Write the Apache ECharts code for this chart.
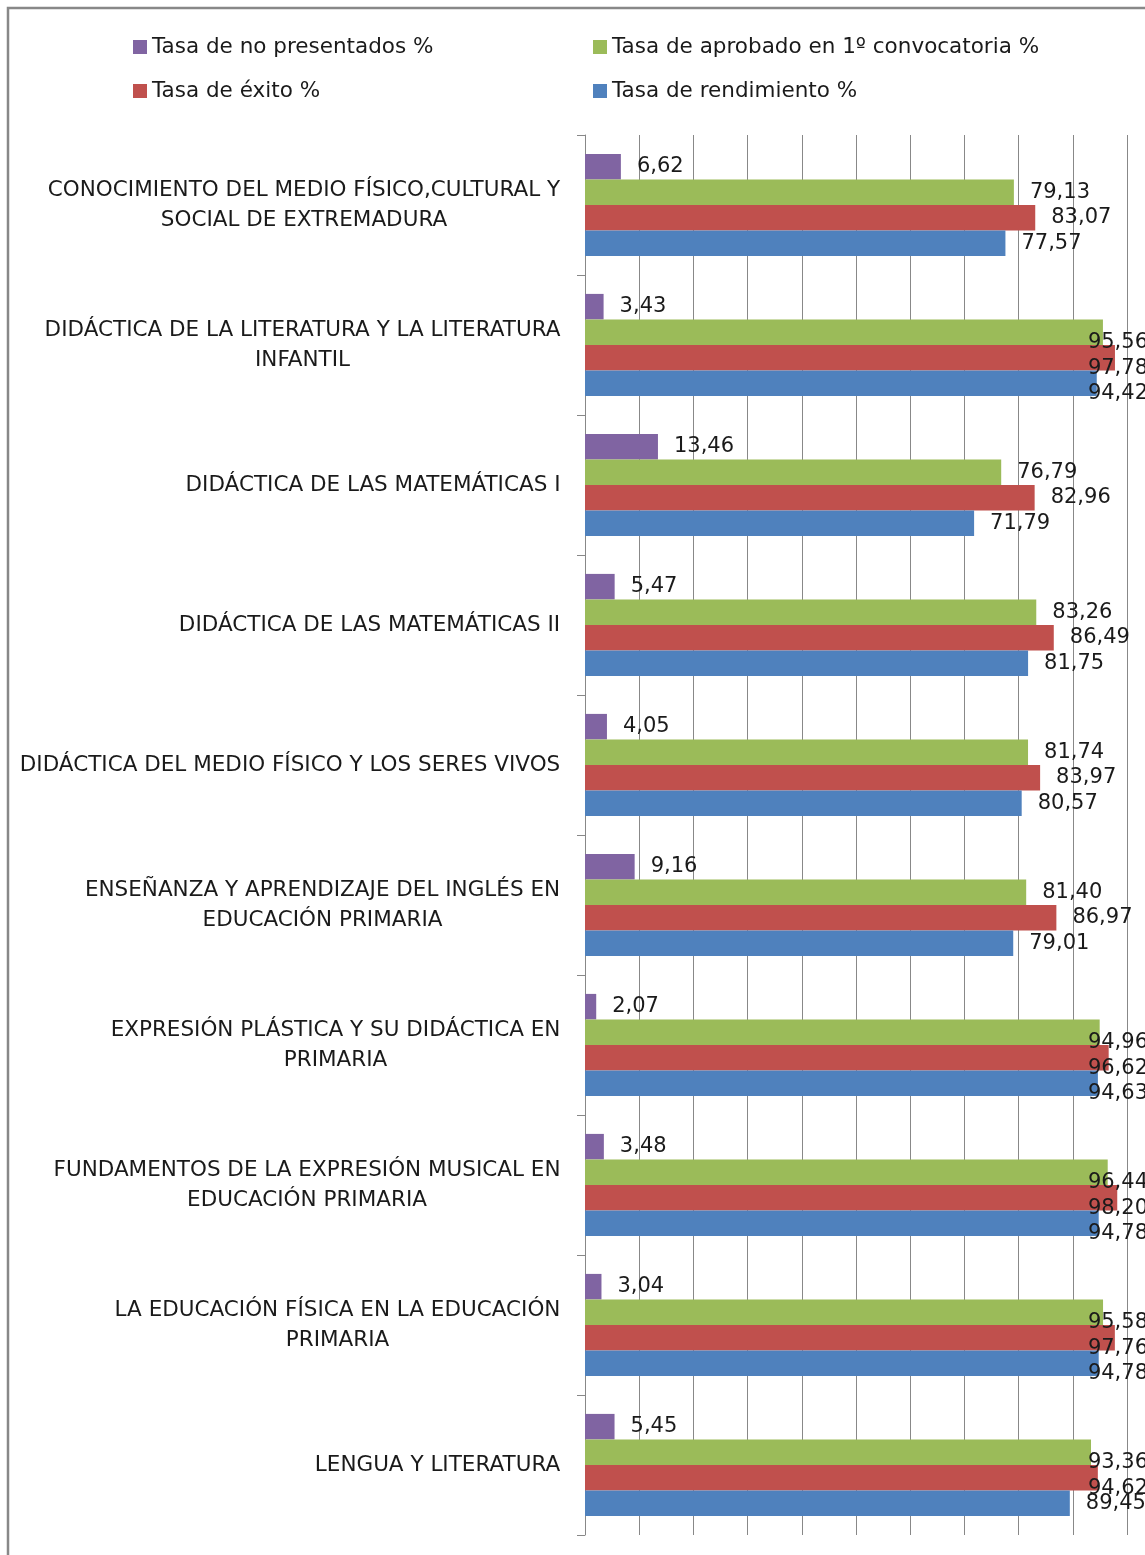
<!DOCTYPE html>
<html>
<head>
<meta charset="utf-8">
<script src="https://cdn.jsdelivr.net/npm/echarts@6/dist/echarts.min.js"></script>
<style>
  html, body { margin: 0; padding: 0; background: #fff; }
  #chart { width: 1145px; height: 1555px; }
</style>
</head>
<body>
<div id="chart"></div>
<script>
// asignaturas, de arriba a abajo
var categories = [
    'CONOCIMIENTO DEL MEDIO FÍSICO,CULTURAL Y\nSOCIAL DE EXTREMADURA',
    'DIDÁCTICA DE LA LITERATURA Y LA LITERATURA\nINFANTIL',
    'DIDÁCTICA DE LAS MATEMÁTICAS I',
    'DIDÁCTICA DE LAS MATEMÁTICAS II',
    'DIDÁCTICA DEL MEDIO FÍSICO Y LOS SERES VIVOS',
    'ENSEÑANZA Y APRENDIZAJE DEL INGLÉS EN\nEDUCACIÓN PRIMARIA',
    'EXPRESIÓN PLÁSTICA Y SU DIDÁCTICA EN\nPRIMARIA',
    'FUNDAMENTOS DE LA EXPRESIÓN MUSICAL EN\nEDUCACIÓN PRIMARIA',
    'LA EDUCACIÓN FÍSICA EN LA EDUCACIÓN\nPRIMARIA',
    'LENGUA Y LITERATURA'
];
var noPresentados = [6.62, 3.43, 13.46, 5.47, 4.05, 9.16, 2.07, 3.48, 3.04, 5.45];
var aprobado1 = [79.13, 95.56, 76.79, 83.26, 81.74, 81.40, 94.96, 96.44, 95.58, 93.36];
var exito = [83.07, 97.78, 82.96, 86.49, 83.97, 86.97, 96.62, 98.20, 97.76, 94.62];
var rendimiento = [77.57, 94.42, 71.79, 81.75, 80.57, 79.01, 94.63, 94.78, 94.78, 89.45];

var seriesNames = ['Tasa de no presentados %', 'Tasa de aprobado en 1º convocatoria %', 'Tasa de éxito %', 'Tasa de rendimiento %'];
var seriesData = [noPresentados, aprobado1, exito, rendimiento];
var colors = ['#8064A2', '#9BBB59', '#C0504D', '#4F81BD'];

var FONT = 'DejaVu Sans';
var catSize = 21.5;

// ancho de cada etiqueta para centrar las lineas dentro del bloque
var ctx = document.createElement('canvas').getContext('2d');
ctx.font = catSize + 'px "' + FONT + '"';
var rich = {};
for (var i in categories) {
    var lines = categories[i].split('\n');
    var w = 0;
    for (var j in lines) {
        w = Math.max(w, ctx.measureText(lines[j]).width);
    }
    rich['c' + i] = {width: Math.ceil(w) + 1, align: 'center', fontSize: catSize, fontFamily: FONT, lineHeight: 30, color: '#1a1a1a'};
}

var chart = echarts.init(document.getElementById('chart'));

var legendPos = [[133, 36], [593, 36], [133, 80], [593, 80]];
var legends = [];
for (var k = 0; k < 4; k++) {
    legends.push({
        data: [seriesNames[k]],
        left: legendPos[k][0],
        top: legendPos[k][1],
        padding: 0,
        itemWidth: 14,
        itemHeight: 14,
        itemGap: 5,
        icon: 'rect',
        selectedMode: false,
        textStyle: {fontFamily: FONT, fontSize: 21.5, color: '#1a1a1a'}
    });
}

var series = [];
for (var s = 0; s < 4; s++) {
    series.push({
        name: seriesNames[s],
        type: 'bar',
        data: seriesData[s],
        barGap: '0%',
        barCategoryGap: '27%',
        itemStyle: {color: colors[s]},
        label: {
            show: true,
            position: 'right',
            distance: 16,
            fontFamily: FONT,
            fontSize: 21,
            color: '#1a1a1a',
            formatter: function (p) {
                return p.value.toFixed(2).replace('.', ',');
            }
        },
        labelLayout: function (params) {
            var r = params.labelRect;
            if (r.x + r.width > 1148) {
                return {x: 1148 - r.width};
            }
        }
    });
}

var option = {
    animation: false,
    color: colors,
    legend: legends,
    grid: {left: 585, right: 18, top: 135, bottom: 20},
    xAxis: {
        type: 'value',
        min: 0,
        max: 100,
        interval: 10,
        axisLine: {show: false},
        axisTick: {show: false},
        axisLabel: {show: false},
        splitLine: {show: true, lineStyle: {color: '#888', width: 1}}
    },
    yAxis: {
        type: 'category',
        inverse: true,
        data: categories,
        axisLine: {show: true, lineStyle: {color: '#888', width: 1}},
        axisTick: {show: true, length: 8, lineStyle: {color: '#888'}},
        axisLabel: {
            margin: 24,
            align: 'right',
            rich: rich,
            formatter: function (v, idx) {
                return v.split('\n').map(function (l) {
                    return '{c' + idx + '|' + l + '}';
                }).join('\n');
            }
        }
    },
    graphic: [{
        type: 'rect',
        shape: {x: 8, y: 8, width: 1300, height: 1700},
        style: {fill: 'none', stroke: '#888', lineWidth: 2.5},
        silent: true
    }],
    series: series
};

chart.setOption(option);
</script>
</body>
</html>
